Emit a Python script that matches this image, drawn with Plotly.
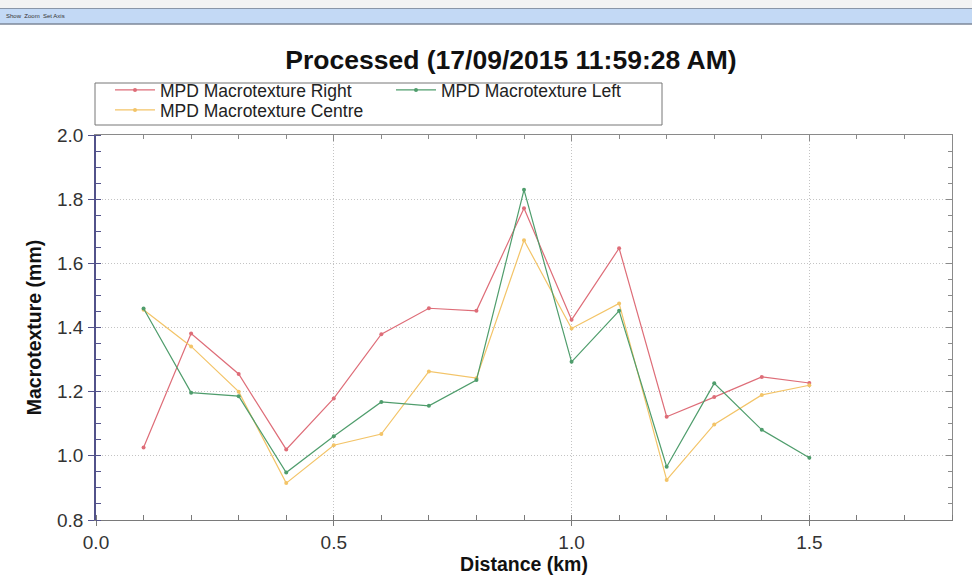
import plotly.graph_objects as go

distance_km = [0.1, 0.2, 0.3, 0.4, 0.5, 0.6, 0.7, 0.8, 0.9, 1.0, 1.1, 1.2, 1.3, 1.4, 1.5]
mpd_right = [1.026, 1.381, 1.255, 1.020, 1.179, 1.379, 1.460, 1.452, 1.772, 1.424, 1.647, 1.122, 1.183, 1.246, 1.227]
mpd_left = [1.459, 1.197, 1.186, 0.948, 1.061, 1.168, 1.156, 1.236, 1.829, 1.293, 1.452, 0.966, 1.226, 1.081, 0.994]
mpd_centre = [1.455, 1.341, 1.200, 0.915, 1.033, 1.068, 1.263, 1.242, 1.672, 1.397, 1.475, 0.925, 1.098, 1.190, 1.220]

title_text = "Processed (17/09/2015 11:59:28 AM)"
x_title = "Distance (km)"
y_title = "Macrotexture (mm)"
toolbar_text = "Show  Zoom  Set Axis"

W, H = 972, 582
ML, MR, MT, MB = 96, 20, 135, 62
FONT = "Liberation Sans, Arial, sans-serif"
X_RANGE = [0, 1.8]
Y_RANGE = [0.8, 2.0]

pw = W - ML - MR
ph = H - MT - MB
def px_x(p):
    return (p - ML) / pw
def px_y(p):
    return 1 - (p - MT) / ph

RED, YEL, GRN = "#de6d78", "#f3c468", "#4f9d6c"

fig = go.Figure()
fig.add_trace(go.Scatter(x=distance_km, y=mpd_right, name="MPD Macrotexture Right",
                         mode="lines+markers", line=dict(color=RED, width=1.2),
                         marker=dict(size=4, color=RED), legend="legend"))
fig.add_trace(go.Scatter(x=distance_km, y=mpd_centre, name="MPD Macrotexture Centre",
                         mode="lines+markers", line=dict(color=YEL, width=1.2),
                         marker=dict(size=4, color=YEL), legend="legend3"))
fig.add_trace(go.Scatter(x=distance_km, y=mpd_left, name="MPD Macrotexture Left",
                         mode="lines+markers", line=dict(color=GRN, width=1.2),
                         marker=dict(size=4, color=GRN), legend="legend2"))
# hidden trace to activate the mirrored (top/right) axes
fig.add_trace(go.Scatter(x=[None], y=[None], xaxis="x2", yaxis="y2", showlegend=False,
                         hoverinfo="skip"))

shapes = [
    dict(type="rect", xref="paper", yref="paper", x0=px_x(0), x1=px_x(W), y0=px_y(8), y1=px_y(0),
         fillcolor="#f3f3f3", line=dict(width=0), layer="below"),
    dict(type="rect", xref="paper", yref="paper", x0=px_x(0), x1=px_x(W), y0=px_y(24), y1=px_y(8),
         fillcolor="#c3d9f5", line=dict(width=0), layer="below"),
    dict(type="line", xref="paper", yref="paper", x0=px_x(0), x1=px_x(W), y0=px_y(8.5), y1=px_y(8.5),
         line=dict(color="#8a96a8", width=1)),
    dict(type="line", xref="paper", yref="paper", x0=px_x(0), x1=px_x(W), y0=px_y(24), y1=px_y(24),
         line=dict(color="#7d8798", width=1.5)),
    dict(type="rect", xref="paper", yref="paper", x0=px_x(95), x1=px_x(662), y0=px_y(125), y1=px_y(83),
         fillcolor="white", line=dict(color="#777777", width=1), layer="below"),
]

leg_common = dict(xanchor="left", yanchor="middle", bgcolor="rgba(0,0,0,0)", borderwidth=0,
                  font=dict(size=17.5, color="#222222", family=FONT), itemwidth=40)

tickfont = dict(size=19, color="#333333", family=FONT)
titlefont = dict(size=19.5, color="#111111", family=FONT)
grid = dict(showgrid=True, gridcolor="#c4c4c4", griddash="1px,2px", gridwidth=1)

fig.update_layout(
    width=W, height=H,
    margin=dict(l=ML, r=MR, t=MT, b=MB),
    paper_bgcolor="white", plot_bgcolor="white",
    font=dict(family=FONT, color="#222222"),
    title=dict(text="<b>" + title_text + "</b>", x=511 / W, xanchor="center",
               y=1 - 60 / H, yanchor="middle", yref="container",
               font=dict(size=26.5, color="#111111", family=FONT)),
    shapes=shapes,
    annotations=[dict(text=toolbar_text, xref="paper", yref="paper", x=px_x(4), y=px_y(16),
                      xanchor="left", yanchor="middle", showarrow=False,
                      font=dict(size=6, color="#333333", family=FONT))],
    legend=dict(x=px_x(110), y=px_y(90), **leg_common),
    legend3=dict(x=px_x(110), y=px_y(110), **leg_common),
    legend2=dict(x=px_x(391), y=px_y(90), **leg_common),
    xaxis=dict(range=X_RANGE, dtick=0.5, tick0=0, tickformat=".1f",
               showline=True, linecolor="#7a7a7a", linewidth=1, mirror=False,
               ticks="outside", ticklen=5, tickcolor="#7a7a7a",
               minor=dict(dtick=0.1, ticks="inside", ticklen=5, tickcolor="#7a7a7a", showgrid=False),
               zeroline=False, tickfont=tickfont, **grid,
               title=dict(text="<b>" + x_title + "</b>", font=titlefont, standoff=4)),
    yaxis=dict(range=Y_RANGE, dtick=0.2, tick0=0.8, tickformat=".1f",
               showline=True, linecolor="#52528a", linewidth=1.5, mirror=False,
               ticks="outside", ticklen=6, tickcolor="#52528a",
               minor=dict(dtick=0.05, ticks="inside", ticklen=5, tickcolor="#52528a", showgrid=False),
               zeroline=False, tickfont=tickfont, ticklabelstandoff=1, **grid,
               title=dict(text="<b>" + y_title + "</b>", font=titlefont, standoff=10)),
    xaxis2=dict(range=X_RANGE, overlaying="x", side="top", anchor="y", dtick=0.5, tick0=0,
                showline=True, linecolor="#8a8a8a", linewidth=1, showticklabels=False,
                ticks="inside", ticklen=6, tickcolor="#8a8a8a",
                minor=dict(dtick=0.1, ticks="inside", ticklen=4, tickcolor="#8a8a8a", showgrid=False),
                showgrid=False, zeroline=False),
    yaxis2=dict(range=Y_RANGE, overlaying="y", side="right", anchor="x", dtick=0.2, tick0=0.8,
                showline=True, linecolor="#8a8a8a", linewidth=1, showticklabels=False,
                ticks="inside", ticklen=6, tickcolor="#8a8a8a",
                minor=dict(dtick=0.05, ticks="inside", ticklen=4, tickcolor="#8a8a8a", showgrid=False),
                showgrid=False, zeroline=False),
)

fig.write_html("out.html", config={"displayModeBar": False},
               post_script="document.body.style.margin='0';document.body.style.padding='0';")
